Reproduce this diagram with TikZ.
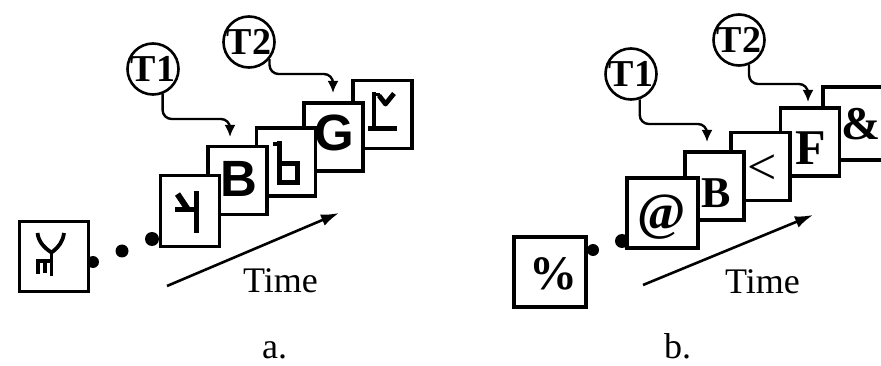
\documentclass[tikz,border=0pt]{standalone}
\usepackage{fontspec}
\setmainfont{Liberation Serif}
\newfontfamily\glyphsans{Liberation Sans}
\usetikzlibrary{arrows.meta}

\begin{document}
\begin{tikzpicture}[x=1pt,y=-1pt,
  frame/.style={draw, line width=3.6pt, fill=white, inner sep=0pt,
    minimum width=59pt, minimum height=68pt},
  tag/.style={draw, circle, line width=2.6pt, fill=white, minimum size=51pt,
    inner sep=0pt, font=\fontsize{38}{38}\selectfont\bfseries},
  conn/.style={line width=2.4pt, rounded corners=9pt,
    -{Latex[length=12pt,width=11pt]}},
  timearrow/.style={line width=2.6pt, -{Latex[length=18pt,width=12pt]}},
  link/.style={fill=black},
  sym/.style={inner sep=0pt},
  strokes/.style={line width=4.8pt},
  thinstrokes/.style={line width=3.8pt},
  sanssym/.style={sym, font=\glyphsans\bfseries\fontsize{51}{51}\selectfont},
  serifsym/.style={sym, font=\bfseries\fontsize{48}{48}\selectfont},
  caption/.style={font=\fontsize{36}{36}\selectfont, inner sep=0pt, anchor=base west}
]
\fill[white] (0,0) rectangle (881,366);
\useasboundingbox (0,0) rectangle (881,366);

% ---------------- panel a ----------------
% joining dots (behind the frames)
\fill[link] (93,262) circle (6);
\fill[link] (122,251) circle (6.5);
\fill[link] (152,239) circle (7);

% single frame on the left
\node[frame, minimum width=69pt, minimum height=70pt] (ya) at (54,256.5) {};
\draw[thinstrokes] (37.5,233) .. controls (38.5,241) and (43,247) .. (51.5,252.5);
\draw[thinstrokes] (64,233) .. controls (63,241) and (59,247) .. (51.5,252.5);
\draw[thinstrokes] (51.5,250) -- (51.5,275.5);
\draw[thinstrokes] (36,260.7) -- (53,260.7);
\draw[thinstrokes] (37.8,259) -- (37.8,273.5);
\draw[thinstrokes] (45,260) -- (45,273);

% stacked frames, drawn from the back to the front
\node[frame] (la) at (382.5,114.5) {};
\draw[strokes] (374,92) -- (374,128.3);
\draw[strokes] (368.3,128.3) -- (396.7,128.3);
\draw[line width=3pt] (374,95) -- (380,95);
\draw[strokes, line join=round] (379,95.5) -- (385.5,104) -- (394,93.5);

\node[frame] (ga) at (333.5,137) {};
\node[sanssym] (gl) at (334,133) {G};

\node[frame] (ta) at (286,162) {};
\draw[strokes] (273,144) -- (282,144);
\draw[strokes] (279.3,141.5) -- (279.3,182.7) -- (297.7,182.7) -- (297.7,163.3) -- (279.3,163.3);

\node[frame] (ba) at (237.5,180.5) {};
\node[sanssym] (bl) at (239,179) {B};

\node[frame, minimum height=71pt] (na) at (190,211) {};
\draw[line width=6pt] (177.5,194) -- (187.5,209);
\draw[strokes] (175,209.3) -- (199,209.3);
\draw[strokes] (196.7,191.5) -- (196.7,233.5);

% transformation markers
\node[tag] (t1a) at (153,69) {T1};
\node[tag] (t2a) at (249,42) {T2};
\coordinate (t1atip) at (230,137);
\coordinate (t2atip) at (333,93);
\draw[conn] (t1a.-69) |- ([yshift=18pt]t1atip) -- (t1atip);
\draw[conn] (t2a.-40) |- ([yshift=19pt]t2atip) -- (t2atip);

% time axis
\coordinate (ta0) at (167,286);
\coordinate (ta1) at (339,213);
\draw[timearrow] (ta0) -- (ta1);
\node[caption] (timea) at (243,292) {Time};

\node[caption] (capa) at (262,358) {a.};

% ---------------- panel b ----------------
\fill[link] (593,250) circle (6);
\fill[link] (622,241) circle (7);

\node[frame, minimum width=72pt, minimum height=70pt] (pb) at (550,272) {};
\node[serifsym] (pl) at (553,274) {\%};

\node[frame, minimum width=80pt, minimum height=73pt] (amb) at (863,123.5) {};
\node[serifsym, font=\bfseries\fontsize{47}{47}\selectfont] (aml) at (861,124) {\&};

\node[frame] (fb) at (810,142) {};
\node[serifsym, font=\bfseries\fontsize{50}{50}\selectfont] (fl) at (811,148) {F};

\node[frame] (lb) at (760.5,166.5) {};
\node[sym, font=\fontsize{52}{52}\selectfont] (ll) at (762,170) {<};

\node[frame] (bb) at (714.5,186) {};
\node[serifsym, font=\bfseries\fontsize{44}{44}\selectfont] (bbl) at (716,193) {B};

\node[frame, minimum width=71pt, minimum height=70pt] (atb) at (662.5,213) {};
\node[serifsym, font=\bfseries\fontsize{52}{52}\selectfont] (atl) at (662,217) {@};

\node[tag] (t1b) at (631,74) {T1};
\node[tag] (t2b) at (739,40) {T2};
\coordinate (t1btip) at (707,142);
\coordinate (t2btip) at (808,102);
\draw[conn] (t1b.-71) |- ([yshift=18pt]t1btip) -- (t1btip);
\draw[conn] (t2b.-68) |- ([yshift=18pt]t2btip) -- (t2btip);

\coordinate (tb0) at (643,285);
\coordinate (tb1) at (813,215);
\draw[timearrow] (tb0) -- (tb1);
\node[caption] (timeb) at (725,293) {Time};

\node[caption] (capb) at (664,358) {b.};
\end{tikzpicture}
\end{document}
